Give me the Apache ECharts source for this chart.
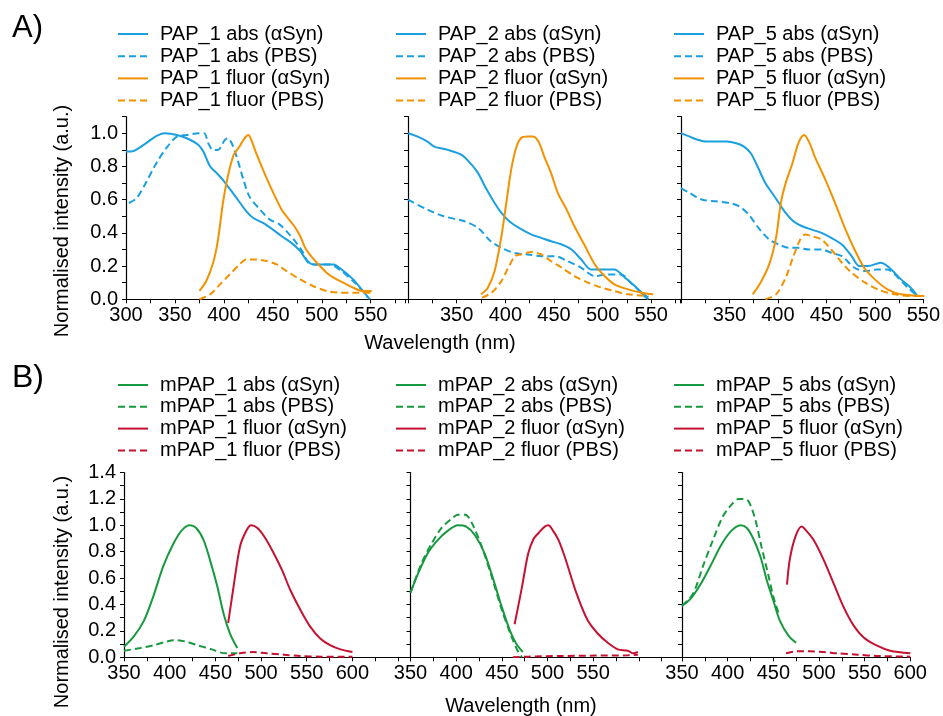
<!DOCTYPE html>
<html><head><meta charset="utf-8">
<script src="https://cdn.jsdelivr.net/npm/echarts@6/dist/echarts.min.js"></script>
<style>html,body{margin:0;padding:0;background:#fff}#c{width:943px;height:716px}</style>
</head><body><div id="c"></div>
<script>
// ---------- DATA (wavelength nm, normalised intensity) ----------
// Row A
const PAP1_abs_aSyn = [[300,0.89],[305,0.89],[318,0.93],[330,0.98],[340,1.0],[352,0.99],[362,0.97],[374,0.93],[379,0.89],[386,0.80],[391,0.77],[399,0.72],[404,0.68],[413,0.61],[423,0.53],[430,0.49],[440,0.46],[450,0.42],[459,0.38],[469,0.34],[478,0.29],[484,0.24],[491,0.21],[500,0.21],[512,0.21],[518,0.19],[532,0.12],[542,0.05],[549,0.0]];
const PAP1_abs_PBS = [[303,0.58],[311,0.61],[321,0.71],[331,0.82],[341,0.91],[352,0.98],[362,0.99],[374,1.0],[380,1.0],[384,0.94],[389,0.90],[394,0.90],[401,0.96],[404,0.97],[408,0.94],[413,0.86],[420,0.72],[426,0.62],[437,0.54],[447,0.48],[457,0.45],[467,0.39],[474,0.34],[481,0.28],[486,0.22],[495,0.21],[508,0.21],[518,0.18],[532,0.11],[542,0.05],[547,0.01]];
const PAP1_fl_aSyn = [[375,0.05],[382,0.11],[389,0.22],[394,0.36],[399,0.58],[404,0.74],[410,0.87],[416,0.92],[421,0.97],[425,0.99],[428,0.96],[433,0.88],[440,0.78],[449,0.66],[459,0.54],[464,0.50],[472,0.44],[478,0.38],[484,0.30],[495,0.22],[505,0.16],[512,0.13],[522,0.10],[532,0.07],[542,0.05],[551,0.05]];
const PAP1_fl_PBS = [[375,0.0],[386,0.03],[396,0.09],[406,0.15],[416,0.21],[423,0.24],[433,0.24],[444,0.23],[454,0.21],[464,0.17],[478,0.12],[491,0.08],[505,0.05],[518,0.04],[532,0.04],[551,0.04]];

const PAP2_abs_aSyn = [[300,1.0],[310,0.98],[320,0.95],[327,0.92],[341,0.90],[355,0.87],[364,0.82],[372,0.76],[380,0.67],[389,0.58],[396,0.52],[404,0.47],[414,0.43],[427,0.39],[437,0.37],[447,0.35],[458,0.33],[468,0.30],[478,0.24],[488,0.18],[495,0.18],[505,0.18],[512,0.18],[523,0.13],[533,0.08],[543,0.02],[547,0.0]];
const PAP2_abs_PBS = [[300,0.60],[320,0.54],[337,0.50],[358,0.47],[372,0.43],[385,0.35],[396,0.31],[409,0.28],[423,0.27],[437,0.26],[451,0.26],[464,0.23],[478,0.19],[492,0.14],[505,0.15],[519,0.15],[529,0.10],[540,0.04],[547,0.01]];
const PAP2_fl_aSyn = [[375,0.03],[382,0.07],[389,0.17],[396,0.38],[401,0.58],[406,0.78],[411,0.91],[416,0.97],[423,0.98],[428,0.98],[434,0.95],[440,0.86],[447,0.76],[454,0.64],[463,0.54],[471,0.44],[482,0.32],[492,0.21],[502,0.14],[512,0.09],[526,0.06],[540,0.04],[552,0.03]];
const PAP2_fl_PBS = [[376,0.01],[386,0.04],[396,0.11],[403,0.19],[410,0.26],[416,0.27],[427,0.285],[437,0.27],[447,0.23],[458,0.19],[471,0.14],[485,0.10],[499,0.07],[512,0.05],[526,0.03],[547,0.02]];

const PAP5_abs_aSyn = [[300,1.0],[309,0.98],[318,0.96],[326,0.95],[336,0.95],[347,0.95],[357,0.94],[365,0.92],[372,0.88],[379,0.80],[387,0.70],[394,0.64],[401,0.58],[408,0.52],[416,0.47],[425,0.44],[435,0.42],[445,0.40],[455,0.37],[466,0.33],[476,0.26],[484,0.20],[493,0.20],[506,0.22],[515,0.19],[527,0.12],[537,0.07],[544,0.02]];
const PAP5_abs_PBS = [[300,0.67],[309,0.64],[322,0.60],[336,0.59],[350,0.58],[360,0.56],[370,0.51],[380,0.43],[391,0.36],[401,0.33],[411,0.31],[421,0.31],[432,0.30],[445,0.30],[455,0.28],[466,0.26],[479,0.19],[490,0.17],[503,0.18],[513,0.18],[524,0.13],[534,0.07],[544,0.02]];
const PAP5_fl_aSyn = [[374,0.03],[382,0.10],[391,0.21],[398,0.37],[403,0.58],[408,0.70],[415,0.82],[421,0.94],[427,0.99],[432,0.95],[438,0.86],[449,0.72],[459,0.58],[469,0.43],[479,0.30],[489,0.19],[500,0.12],[513,0.06],[527,0.03],[551,0.02]];
const PAP5_fl_PBS = [[387,0.0],[398,0.03],[408,0.13],[416,0.26],[423,0.36],[428,0.39],[435,0.38],[445,0.36],[455,0.30],[466,0.22],[476,0.16],[490,0.10],[503,0.06],[520,0.03],[541,0.02],[551,0.02]];

// Row B
const mPAP1_abs_aSyn = [[350,0.08],[361,0.16],[372,0.28],[382,0.46],[393,0.69],[404,0.86],[413,0.96],[422,1.0],[429,0.98],[437,0.89],[444,0.74],[452,0.54],[459,0.33],[466,0.18],[474,0.07]];
const mPAP1_abs_PBS = [[350,0.05],[368,0.07],[382,0.09],[397,0.12],[404,0.13],[417,0.12],[431,0.09],[446,0.06],[461,0.03],[474,0.03]];
const mPAP1_fl_aSyn = [[464,0.26],[470,0.54],[477,0.84],[484,0.96],[489,1.0],[496,0.98],[504,0.91],[513,0.80],[523,0.66],[532,0.51],[543,0.36],[554,0.23],[565,0.14],[576,0.09],[587,0.06],[600,0.04]];
const mPAP1_fl_PBS = [[464,0.01],[477,0.03],[491,0.04],[506,0.03],[525,0.02],[543,0.01],[565,0.005],[600,0.005]];

const mPAP2_abs_aSyn = [[350,0.49],[358,0.63],[369,0.79],[380,0.89],[391,0.96],[402,1.0],[411,0.99],[420,0.93],[431,0.79],[442,0.56],[450,0.38],[459,0.20],[466,0.10],[473,0.04]];
const mPAP2_abs_PBS = [[350,0.49],[362,0.71],[373,0.86],[384,0.98],[395,1.05],[402,1.08],[410,1.08],[417,1.02],[428,0.84],[439,0.61],[450,0.36],[461,0.15],[468,0.04],[472,0.0]];
const mPAP2_fl_aSyn = [[464,0.25],[472,0.53],[479,0.79],[485,0.90],[490,0.94],[497,0.99],[501,1.0],[506,0.96],[512,0.89],[519,0.76],[532,0.48],[544,0.28],[555,0.18],[566,0.11],[577,0.06],[588,0.05],[594,0.03],[599,0.04]];
const mPAP2_fl_PBS = [[462,0.0],[479,0.005],[515,0.01],[552,0.013],[588,0.015],[599,0.02]];

const mPAP5_abs_aSyn = [[350,0.39],[359,0.44],[370,0.55],[381,0.69],[392,0.84],[403,0.95],[414,1.0],[421,0.98],[428,0.90],[436,0.76],[443,0.58],[450,0.43],[457,0.28],[467,0.16],[475,0.11]];
const mPAP5_abs_PBS = [[350,0.39],[362,0.48],[373,0.69],[384,0.89],[395,1.07],[406,1.17],[412,1.20],[417,1.20],[423,1.18],[430,1.05],[437,0.84],[445,0.61],[450,0.46],[456,0.33]];
const mPAP5_fl_aSyn = [[465,0.55],[468,0.74],[474,0.91],[481,0.99],[486,0.96],[494,0.89],[505,0.74],[516,0.56],[527,0.38],[538,0.24],[549,0.15],[563,0.09],[578,0.05],[600,0.03]];
const mPAP5_fl_PBS = [[464,0.03],[476,0.045],[490,0.045],[505,0.04],[520,0.03],[542,0.02],[563,0.01],[600,0.005]];

// tick labels
const xLabelsA1 = [300,350,400,450,500,550];
const xLabelsA2 = [350,400,450,500,550];
const xLabelsA3 = [350,400,450,500,550];
const xLabelsB1 = [350,400,450,500,550,600];
const xLabelsB2 = [350,400,450,500,550];
const xLabelsB3 = [350,400,450,500,550,600];
const yLabelsA = [0.0,0.2,0.4,0.6,0.8,1.0];
const yLabelsB = [0.0,0.2,0.4,0.6,0.8,1.0,1.2,1.4];

const compoundsA = ['PAP_1','PAP_2','PAP_5'];
const compoundsB = ['mPAP_1','mPAP_2','mPAP_5'];

// ---------- STYLE / LAYOUT ----------
const FONT = "'Liberation Sans', Arial, Helvetica, sans-serif";
const BLUE = '#1a9fe0', ORANGE = '#f39200', GREEN = '#17993f', RED = '#c41230';
const DASH = [7,4];

const grids = [
  {left:126, top:116.7, width:279, height:182.6},
  {left:408, top:116.7, width:272, height:182.6},
  {left:681, top:116.7, width:245, height:182.6},
  {left:124, top:472.5, width:286, height:184.8},
  {left:410.5, top:472.5, width:271.5, height:184.8},
  {left:682, top:472.5, width:228.3, height:184.8}
];
const xr = [[300,585],[300,579.5],[300,550],[350,663],[350,647.3],[350,600]];
const xLabelSets = [xLabelsA1,xLabelsA2,xLabelsA3,xLabelsB1,xLabelsB2,xLabelsB3];

const xAxes = grids.map((g,i)=>({
  type:'value', gridIndex:i, min:xr[i][0], max:xr[i][1], interval:25,
  axisLine:{show:true, onZero:false, lineStyle:{color:'#000', width:1.2}},
  axisTick:{show:true, length:4, lineStyle:{color:'#000'}},
  splitLine:{show:false},
  axisLabel:{show:true, color:'#000', fontSize:20, fontFamily:FONT, margin:6,
    formatter:(v)=> xLabelSets[i].includes(Math.round(v)) && Math.abs(v-Math.round(v))<1e-6 ? String(Math.round(v)) : ''}
}));
const yAxes = grids.map((g,i)=>{
  const top = i<3;
  const labs = top ? yLabelsA : yLabelsB;
  return {
    type:'value', gridIndex:i, min:0, max: top?1.1:1.4, interval:0.1,
    axisLine:{show:true, onZero:false, lineStyle:{color:'#000', width:1.2}},
    axisTick:{show:true, length:4, lineStyle:{color:'#000'}},
    splitLine:{show:false},
    axisLabel:{show: i===0||i===3, color:'#000', fontSize:20, fontFamily:FONT, margin:8,
      formatter:(v)=>{ const r=Math.round(v*10)/10; return labs.some(l=>Math.abs(l-r)<1e-6) ? r.toFixed(1) : ''; }}
  };
});

function mk(name, data, color, dashed, idx){
  return {type:'line', name, data, xAxisIndex:idx, yAxisIndex:idx, symbol:'none', smooth:0.3,
    lineStyle:{color, width:2, type: dashed?DASH:'solid'}, itemStyle:{color}, animation:false};
}
const seriesData = [
  [PAP1_abs_aSyn,PAP1_abs_PBS,PAP1_fl_aSyn,PAP1_fl_PBS],
  [PAP2_abs_aSyn,PAP2_abs_PBS,PAP2_fl_aSyn,PAP2_fl_PBS],
  [PAP5_abs_aSyn,PAP5_abs_PBS,PAP5_fl_aSyn,PAP5_fl_PBS],
  [mPAP1_abs_aSyn,mPAP1_abs_PBS,mPAP1_fl_aSyn,mPAP1_fl_PBS],
  [mPAP2_abs_aSyn,mPAP2_abs_PBS,mPAP2_fl_aSyn,mPAP2_fl_PBS],
  [mPAP5_abs_aSyn,mPAP5_abs_PBS,mPAP5_fl_aSyn,mPAP5_fl_PBS]
];
const series = [], legends = [];
const legendLefts = [117,395,673];
seriesData.forEach((sd,i)=>{
  const top = i<3;
  const cname = top ? compoundsA[i] : compoundsB[i-3];
  const cAbs = top?BLUE:GREEN, cFl = top?ORANGE:RED;
  const names = [cname+' abs (αSyn)', cname+' abs (PBS)', cname+' fluor (αSyn)', cname+' fluor (PBS)'];
  series.push(mk(names[0], sd[0], cAbs, false, i));
  series.push(mk(names[1], sd[1], cAbs, true, i));
  series.push(mk(names[2], sd[2], cFl, false, i));
  series.push(mk(names[3], sd[3], cFl, true, i));
  legends.push({
    data:names, orient:'vertical', left:legendLefts[i%3], top: top?24:375, padding:0,
    itemWidth:30, itemHeight:10, itemGap: top?2.2:1.8, selectedMode:false, align:'left',
    itemStyle:{opacity:0},
    textStyle:{color:'#000', fontSize:20, fontFamily:FONT, lineHeight:20, padding:[0,0,0,7]}
  });
});

const graphic = [
  {type:'text', left:12, top:13, style:{text:'A)', fontSize:31, fontFamily:FONT, fill:'#000'}},
  {type:'text', left:12, top:362, style:{text:'B)', fontSize:32, fontFamily:FONT, fill:'#000'}},
  {type:'text', x:440, y:343, style:{text:'Wavelength (nm)', fontSize:20, fontFamily:FONT, fill:'#000', align:'center', verticalAlign:'middle'}},
  {type:'text', x:521, y:706, style:{text:'Wavelength (nm)', fontSize:20, fontFamily:FONT, fill:'#000', align:'center', verticalAlign:'middle'}},
  {type:'text', x:62, y:221, rotation:Math.PI/2, style:{text:'Normalised intensity (a.u.)', fontSize:20, fontFamily:FONT, fill:'#000', align:'center', verticalAlign:'middle'}},
  {type:'text', x:62, y:592, rotation:Math.PI/2, style:{text:'Normalised intensity (a.u.)', fontSize:20, fontFamily:FONT, fill:'#000', align:'center', verticalAlign:'middle'}}
];

const chart = echarts.init(document.getElementById('c'), null, {renderer:'canvas'});
chart.setOption({
  backgroundColor:'#fff', animation:false,
  grid:grids, xAxis:xAxes, yAxis:yAxes, series, legend:legends, graphic
});
</script></body></html>
